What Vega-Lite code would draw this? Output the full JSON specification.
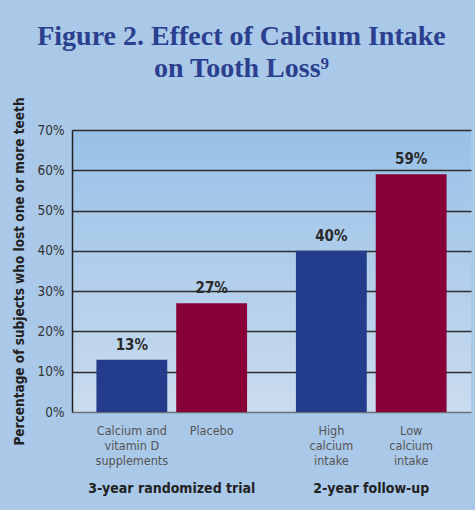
{
  "$schema": "https://vega.github.io/schema/vega-lite/v6.json",
  "width": 399,
  "height": 282,
  "autosize": {"type": "none"},
  "padding": {"left": 72, "top": 130, "right": 4, "bottom": 98},
  "background": "#aac8e8",
  "title": {
    "text": ["Figure 2. Effect of Calcium Intake", "on Tooth Loss⁹"],
    "font": "Liberation Serif",
    "fontSize": 28,
    "fontWeight": "bold",
    "color": "#2b3f8e",
    "anchor": "middle",
    "frame": "group",
    "dx": -30,
    "offset": 14,
    "lineHeight": 32
  },
  "config": {
    "view": {
      "stroke": null,
      "fill": {
        "gradient": "linear",
        "x1": 0, "y1": 0, "x2": 0, "y2": 1,
        "stops": [
          {"offset": 0, "color": "#98c1e8"},
          {"offset": 1, "color": "#cadbee"}
        ]
      }
    }
  },
  "data": {
    "values": [
      {"group": "3-year randomized trial", "arm": "treatment", "label": "Calcium and\nvitamin D\nsupplements", "value": 13},
      {"group": "3-year randomized trial", "arm": "comparison", "label": "Placebo", "value": 27},
      {"group": "2-year follow-up", "arm": "treatment", "label": "High\ncalcium\nintake", "value": 40},
      {"group": "2-year follow-up", "arm": "comparison", "label": "Low\ncalcium\nintake", "value": 59}
    ]
  },
  "encoding": {
    "x": {
      "field": "group",
      "type": "nominal",
      "sort": ["3-year randomized trial", "2-year follow-up"],
      "scale": {"paddingInner": 0, "paddingOuter": 0},
      "axis": {
        "title": null,
        "labelAngle": 0,
        "ticks": false,
        "domain": false,
        "labelPadding": 69,
        "labelBaseline": "top",
        "labelFont": "DejaVu Sans Condensed, Roboto, sans-serif",
        "labelFontWeight": "bold",
        "labelFontSize": 14,
        "labelColor": "#222222"
      }
    },
    "xOffset": {
      "field": "arm",
      "type": "nominal",
      "sort": ["treatment", "comparison"],
      "scale": {"paddingInner": 0.1125, "paddingOuter": 0.306}
    }
  },
  "layer": [
    {
      "mark": {"type": "bar"},
      "encoding": {
        "y": {
          "field": "value",
          "type": "quantitative",
          "scale": {"domain": [0, 70], "nice": false},
          "axis": {
            "values": [0, 10, 20, 30, 40, 50, 60, 70],
            "labelExpr": "datum.value + '%'",
            "ticks": false,
            "labelPadding": 8,
            "labelFont": "DejaVu Sans Condensed, Roboto, sans-serif",
            "labelFontSize": 13.5,
            "labelColor": "#333333",
            "domainColor": "#222222",
            "domainWidth": 1.5,
            "gridColor": {"condition": {"test": "datum.value === 0", "value": "#6a6f78"}, "value": "#2e2e2e"},
            "gridWidth": 1.5,
            "gridOpacity": 1,
            "title": "Percentage of subjects who lost one or more teeth",
            "titleFont": "DejaVu Sans Condensed, Roboto, sans-serif",
            "titleFontWeight": "bold",
            "titleFontSize": 13.5,
            "titleColor": "#222222",
            "titlePadding": 11
          }
        },
        "color": {
          "field": "arm",
          "type": "nominal",
          "scale": {"domain": ["treatment", "comparison"], "range": ["#233d8c", "#880038"]},
          "legend": null
        }
      }
    },
    {
      "mark": {
        "type": "text",
        "baseline": "bottom",
        "dy": -7,
        "font": "DejaVu Sans Condensed, Roboto, sans-serif",
        "fontWeight": "bold",
        "fontSize": 15,
        "color": "#2a2a2a",
        "text": {"expr": "datum.value + '%'"}
      },
      "encoding": {
        "y": {"field": "value", "type": "quantitative"}
      }
    },
    {
      "mark": {
        "type": "text",
        "baseline": "top",
        "dy": 13,
        "lineBreak": "\n",
        "lineHeight": 15,
        "font": "DejaVu Sans Condensed, Roboto, sans-serif",
        "fontSize": 12.5,
        "color": "#555555"
      },
      "encoding": {
        "y": {"datum": 0, "type": "quantitative"},
        "text": {"field": "label", "type": "nominal"}
      }
    }
  ]
}
